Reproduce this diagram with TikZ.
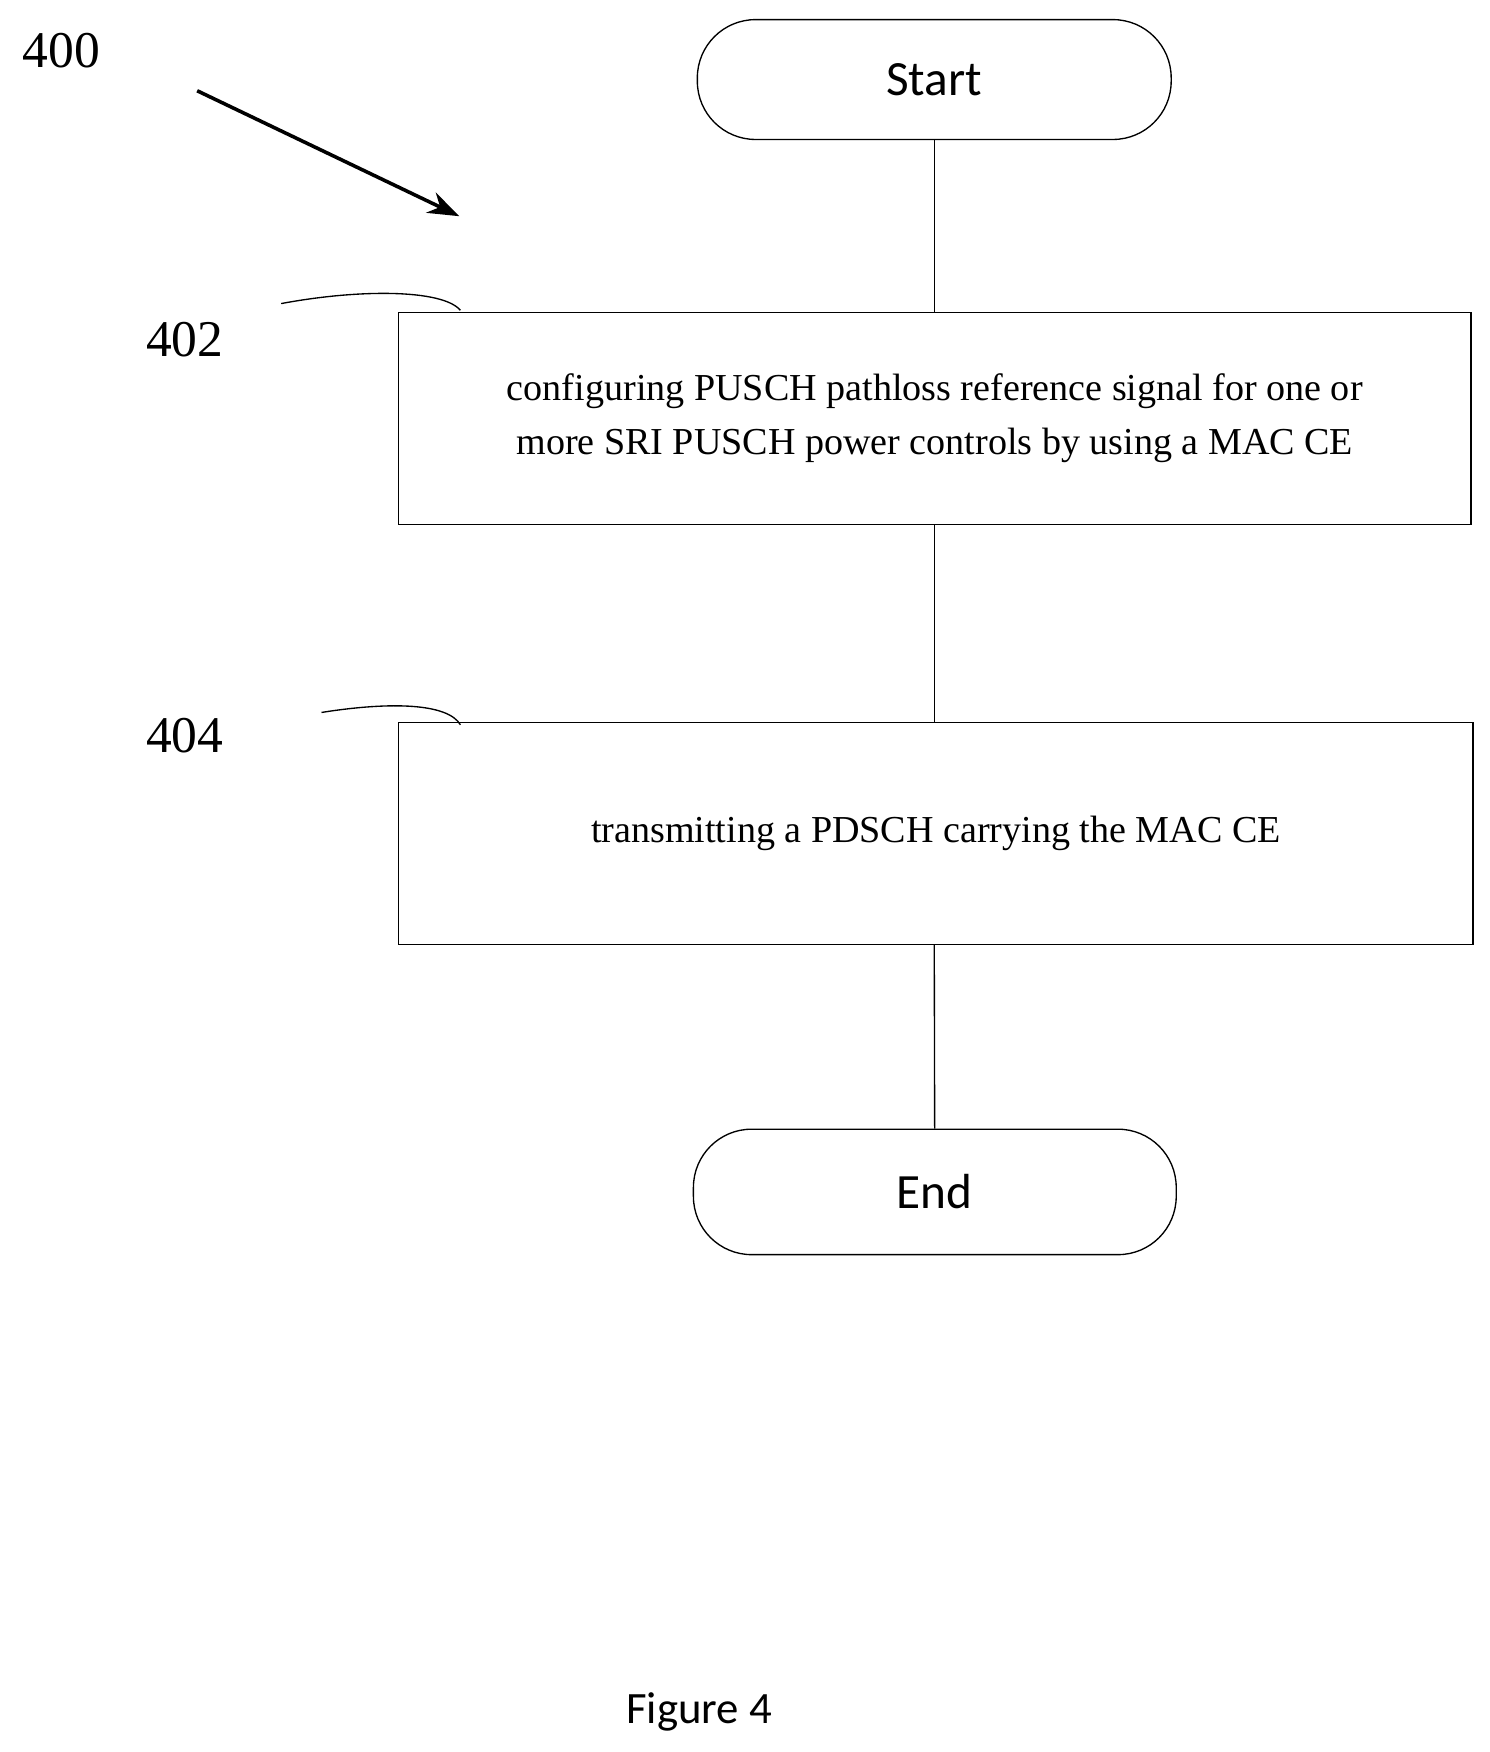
\documentclass[tikz,border=0pt]{standalone}
\usepackage{fontspec}
\setmainfont{Liberation Serif}
\newfontfamily\carl{Carlito}
\usetikzlibrary{arrows.meta}
\begin{document}
\begin{tikzpicture}[x=0.5pt,y=-0.5pt,
  term/.style={draw,rounded corners=26pt,font=\carl\fontsize{22}{26}\selectfont,inner sep=0},
  procbox/.style={draw,font=\fontsize{17}{24}\selectfont,align=center,inner sep=0},
  lab/.style={font=\fontsize{23}{26}\selectfont},
  line width=0.6pt]
\useasboundingbox (0,0) rectangle (1330,1564);
\node[term,minimum width=211.5pt,minimum height=53.5pt] (s) at (834,71) {Start};
\node[procbox,minimum width=478.5pt,minimum height=94.5pt] (b1) at (834.5,373.5) {configuring PUSCH pathloss reference signal for one or\\more SRI PUSCH power controls by using a MAC CE};
\node[procbox,minimum width=479.5pt,minimum height=99pt] (b2) at (835.5,744) {transmitting a PDSCH carrying the MAC CE};
\node[term,minimum width=215.5pt,minimum height=56pt] (e) at (834.5,1064) {End};
\draw (s) -- (s|-b1.north);
\draw (b1.south-|s) -- (b2.north-|s);
\draw (b2.south-|s) -- (e);
\node[lab] (l400) at (55,45) {400};
\node[lab] (l402) at (165,303) {402};
\node[lab] (l404) at (165,657) {404};
\coordinate (a1) at (176,81); \coordinate (a2) at (410,193);
\draw[line width=1.6pt,-{Stealth[length=14pt,width=10pt]}] (a1) -- (a2);
\coordinate (c1) at (251,271); \coordinate (c2) at (411,277);
\draw (c1) .. controls (320,258) and (395,258) .. (c2);
\coordinate (d1) at (287,636); \coordinate (d2) at (411,647);
\draw (d1) .. controls (350,626) and (400,628) .. (d2);
\node[font=\carl\fontsize{20}{24}\selectfont] (fig) at (624,1528) {Figure 4};
\end{tikzpicture}
\end{document}
